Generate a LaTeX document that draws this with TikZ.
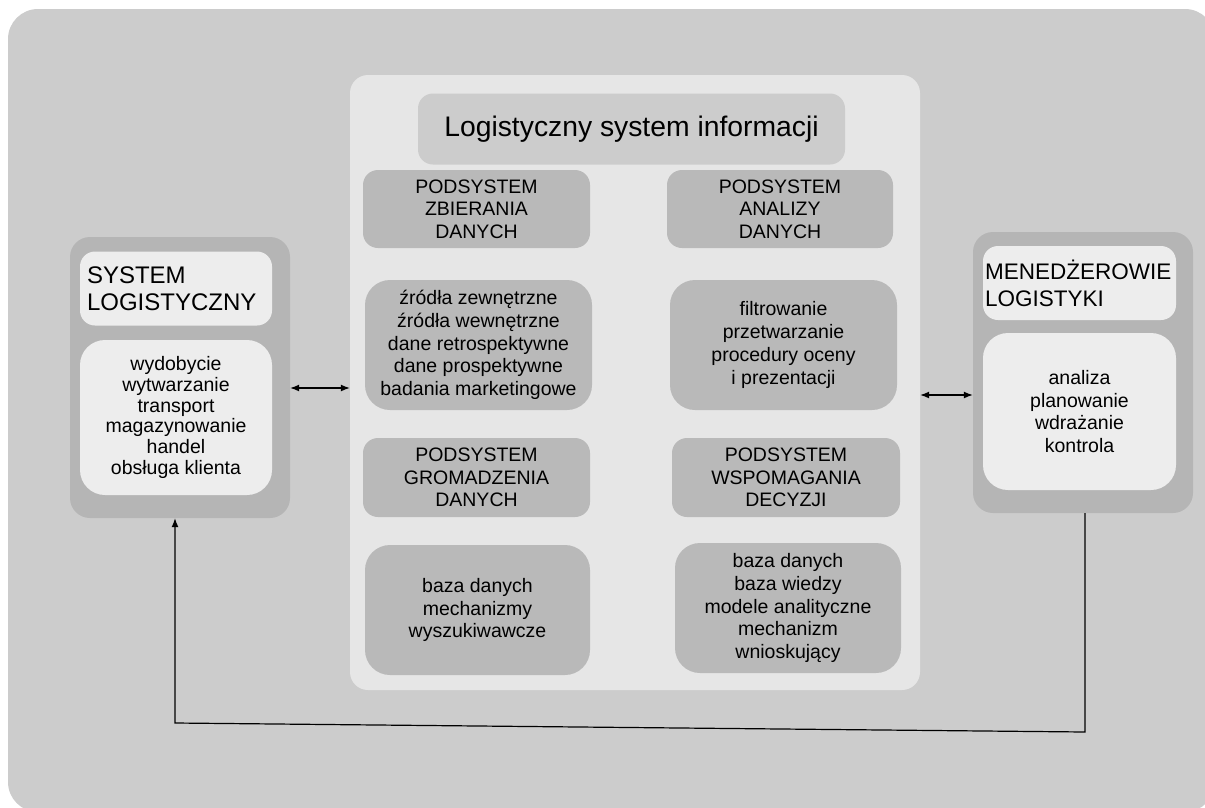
\documentclass[tikz,border=0pt]{standalone}
\usepackage{fontspec}
\setmainfont{Liberation Sans}
\usetikzlibrary{arrows.meta}

\definecolor{pagegray}{HTML}{CCCCCC}
\definecolor{blockgray}{HTML}{B5B5B5}
\definecolor{cellgray}{HTML}{B9B9B9}
\definecolor{panelgray}{HTML}{E6E6E6}
\definecolor{palegray}{HTML}{EDEDED}

\tikzset{
	blockout/.style={fill=blockgray,rounded corners=20pt,minimum width=220pt,minimum height=281pt,inner sep=0pt},
	blocktitle/.style={fill=palegray,rounded corners=15pt,minimum width=193pt,minimum height=74pt,inner xsep=#1,inner ysep=0pt,text width=193pt-2*#1,align=left,font=\fontsize{23}{27}\selectfont},
	blockbody/.style={fill=palegray,rounded corners=25pt,minimum width=193pt,inner sep=0pt,align=center,font=\fontsize{19.5}{20.8}\selectfont},
	headcell/.style={fill=cellgray,rounded corners=15pt,minimum width=227pt,minimum height=78pt,inner sep=0pt,align=center,font=\fontsize{19.5}{22.5}\selectfont},
	listcell/.style={fill=cellgray,rounded corners=25pt,minimum width=227pt,minimum height=130pt,inner sep=0pt,align=center,font=\fontsize{19.5}{22.8}\selectfont},
	link/.style={line width=1.2pt,draw=black},
	tip/.tip={Latex[length=9pt,width=7pt]}
}

\newcommand{\lisbox}[4]
{
	\node[#1] at (#2) (#3) {#4}
}

\begin{document}
\begin{tikzpicture}[x=1pt,y=-1pt]
	\useasboundingbox (0,0) rectangle (1205,807);
	
	%%% Background
	\fill[pagegray,rounded corners=30pt] (8,9) rectangle (1215,812);
	
	%%% Logistyczny system informacji
	\lisbox{fill=panelgray,rounded corners=18pt,minimum width=570pt,minimum height=615pt}{635,382.5}{lis}{};
	\lisbox{fill=pagegray,rounded corners=15pt,minimum width=427pt,minimum height=71pt,font=\fontsize{28.3}{32}\selectfont}{631.5,129}{listitle}{Logistyczny system informacji};
	
	\lisbox{headcell}{476.5,209}{collect}{PODSYSTEM\\ZBIERANIA\\DANYCH};
	\lisbox{headcell,minimum width=226pt}{780,209}{analyse}{PODSYSTEM\\ANALIZY\\DANYCH};
	\lisbox{listcell}{478.5,345}{sources}{źródła zewnętrzne\\źródła wewnętrzne\\dane retrospektywne\\dane prospektywne\\badania marketingowe};
	\lisbox{listcell}{783.5,345}{filter}{filtrowanie\\przetwarzanie\\procedury oceny\\i prezentacji};
	
	\lisbox{headcell,minimum height=79pt}{476.5,477.5}{store}{PODSYSTEM\\GROMADZENIA\\DANYCH};
	\lisbox{headcell,minimum width=228pt,minimum height=79pt}{786,477.5}{support}{PODSYSTEM\\WSPOMAGANIA\\DECYZJI};
	\lisbox{listcell,minimum width=225pt}{477.5,610}{search}{baza danych\\mechanizmy\\wyszukiwawcze};
	\lisbox{listcell,minimum width=226pt}{788,608}{reason}{baza danych\\baza wiedzy\\modele analityczne\\mechanizm\\wnioskujący};
	
	%%% System logistyczny
	\lisbox{blockout}{180,377.5}{sys}{};
	\lisbox{blocktitle=7pt,minimum width=192pt,text width=178pt,font=\fontsize{24}{27}\selectfont}{176,288.5}{systitle}{SYSTEM\\LOGISTYCZNY};
	\lisbox{blockbody,minimum width=192pt,minimum height=155pt}{176,417.5}{sysbody}{wydobycie\\wytwarzanie\\transport\\magazynowanie\\handel\\obsługa klienta};
	
	%%% Menedzerowie logistyki
	\lisbox{blockout}{1083,372.5}{mgr}{};
	\lisbox{blocktitle=2pt,font=\fontsize{22.5}{27}\selectfont}{1079.5,283}{mgrtitle}{MENEDŻEROWIE\\LOGISTYKI};
	\lisbox{blockbody,minimum height=157pt,font=\fontsize{19.5}{22.7}\selectfont}{1079.5,411.5}{mgrbody}{analiza\\planowanie\\wdrażanie\\kontrola};
	
	%%%%%%%%% CONNECTIONS
	\draw[link,tip-tip] ([yshift=-10.5pt]sys.east) -- ([yshift=-10.5pt]sys.east -| lis.west);
	\draw[link,tip-tip] ([yshift=-22.5pt]mgr.west -| lis.east) -- ([yshift=-22.5pt]mgr.west);
	
	\coordinate (backR) at (1085,732);
	\coordinate (backL) at (175,723);
	\draw[link,-tip] (mgr.south -| backR) -- (backR) -- (backL) -- (backL |- sys.south);
\end{tikzpicture}
\end{document}
